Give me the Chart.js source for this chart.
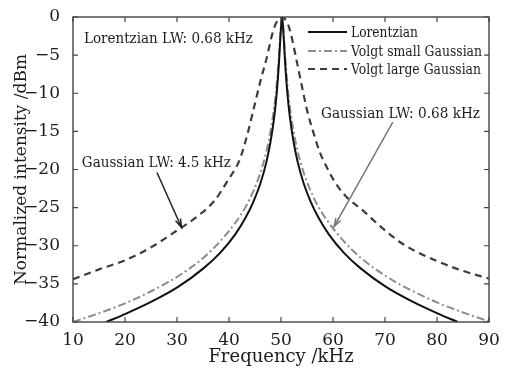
<!DOCTYPE html>
<html>
<head>
<meta charset="utf-8">
<script src="https://cdn.jsdelivr.net/npm/chart.js@4.4.1/dist/chart.umd.min.js"></script>
<style>
  html, body { margin: 0; padding: 0; background: #fff; }
  #wrap { width: 505px; height: 368px; }
</style>
</head>
<body>
<div id="wrap"><canvas id="chart" width="505" height="368"></canvas></div>
<script>
const xTicks = [10, 20, 30, 40, 50, 60, 70, 80, 90];
const yTicks = [0, -5, -10, -15, -20, -25, -30, -35, -40];

// Lorentzian (solid)
const lorFreq = [16.4, 20.2, 25.2, 30.2, 35.2, 38.2, 41.2, 43.2, 44.7, 46.0, 47.2, 48.0, 48.7, 49.2, 49.6, 49.9, 50.2,
  50.5, 50.8, 51.2, 51.7, 52.4, 53.2, 54.4, 55.7, 57.2, 59.2, 62.2, 65.2, 70.2, 75.2, 80.2, 84.0];
const lorDb = [-40.0, -38.9, -37.3, -35.4, -32.9, -31.0, -28.5, -26.3, -24.2, -21.9, -19.0, -16.3, -13.1, -9.8, -6.1, -2.5, 0,
  -2.5, -6.1, -9.8, -13.1, -16.3, -19.0, -21.9, -24.2, -26.3, -28.5, -31.0, -32.9, -35.4, -37.3, -38.9, -40.0];

// Voigt, small Gaussian (dash-dot)
const smallFreq = [10.0, 15.2, 20.2, 25.2, 30.2, 35.2, 38.2, 41.2, 43.2, 44.7, 46.0, 47.2, 48.0, 48.7, 49.2, 49.6, 49.9, 50.2,
  50.5, 50.8, 51.2, 51.7, 52.4, 53.2, 54.4, 55.7, 57.2, 59.2, 62.2, 65.2, 70.2, 75.2, 80.2, 85.2, 90.0];
const smallDb = [-40.0, -38.8, -37.5, -35.9, -34.0, -31.5, -29.5, -27.0, -24.9, -22.8, -20.5, -17.6, -14.9, -11.8, -8.6, -5.1, -1.9, 0,
  -1.9, -5.1, -8.6, -11.8, -14.9, -17.6, -20.5, -22.8, -24.9, -27.0, -29.5, -31.5, -34.0, -35.9, -37.5, -38.8, -39.9];

// Voigt, large Gaussian (dashed)
const largeFreq = [10, 15, 20, 25, 30, 34, 37.2, 39.8, 42.0, 43.5, 44.9, 46.2, 47.2, 48.5, 49.4, 50.2,
  51.0, 51.7, 53.0, 54.0, 55.0, 56.3, 57.5, 58.8, 60.5, 62.6, 65.8, 69.0, 73.5, 80.0, 85.0, 90.0];
const largeDb = [-34.4, -33.1, -31.9, -30.2, -28.0, -26.1, -24.1, -21.4, -18.8, -15.5, -11.6, -8.0, -5.5, -1.8, -0.4, 0,
  -0.5, -1.7, -5.7, -9.0, -12.2, -15.3, -17.8, -19.7, -21.8, -23.6, -25.4, -27.4, -29.8, -32.0, -33.3, -34.3];

const SERIF = "'DejaVu Serif', 'Liberation Serif', serif";
const INK = "#1c1c1c";

function toPoints(xs, ys) {
  return xs.map((x, i) => ({ x: x, y: ys[i] }));
}

// frame + inward ticks on all four sides
const framePlugin = {
  id: "frame",
  afterDatasetsDraw(chart) {
    const { ctx, chartArea: a, scales } = chart;
    ctx.save();
    ctx.strokeStyle = "#444";
    ctx.lineWidth = 1.4;
    ctx.strokeRect(a.left, a.top, a.right - a.left, a.bottom - a.top);
    ctx.lineWidth = 1.2;
    ctx.beginPath();
    xTicks.forEach((v) => {
      const px = scales.x.getPixelForValue(v);
      ctx.moveTo(px, a.bottom); ctx.lineTo(px, a.bottom - 5);
      ctx.moveTo(px, a.top); ctx.lineTo(px, a.top + 5);
    });
    yTicks.forEach((v) => {
      const py = scales.y.getPixelForValue(v);
      ctx.moveTo(a.left, py); ctx.lineTo(a.left + 5, py);
      ctx.moveTo(a.right, py); ctx.lineTo(a.right - 5, py);
    });
    ctx.stroke();
    ctx.restore();
  },
};

function arrow(ctx, x1, y1, x2, y2, color) {
  const a = Math.atan2(y2 - y1, x2 - x1);
  const h = 9;
  ctx.strokeStyle = color;
  ctx.lineWidth = 1.5;
  ctx.beginPath();
  ctx.moveTo(x1, y1);
  ctx.lineTo(x2, y2);
  ctx.moveTo(x2 - h * Math.cos(a - 0.3), y2 - h * Math.sin(a - 0.3));
  ctx.lineTo(x2, y2);
  ctx.lineTo(x2 - h * Math.cos(a + 0.3), y2 - h * Math.sin(a + 0.3));
  ctx.stroke();
}

// text notes, arrows and the legend inside the plot
const notesPlugin = {
  id: "notes",
  afterDraw(chart) {
    const { ctx, scales } = chart;
    const X = (v) => scales.x.getPixelForValue(v);
    const Y = (v) => scales.y.getPixelForValue(v);
    ctx.save();
    ctx.fillStyle = INK;
    ctx.textBaseline = "middle";
    ctx.textAlign = "left";
    ctx.font = "14px " + SERIF;
    ctx.fillText("Lorentzian LW: 0.68 kHz", X(12.1), Y(-2.9), 169);
    ctx.fillText("Gaussian LW: 4.5 kHz", X(11.7), Y(-19.2), 149);
    ctx.fillText("Gaussian LW: 0.68 kHz", X(57.7), Y(-12.8), 159);

    arrow(ctx, X(26.15), Y(-20.4), X(30.87), Y(-27.6), "#222");
    arrow(ctx, X(71.5), Y(-13.8), X(60.2), Y(-27.5), "#777");

    // legend
    const rows = [32, 51, 69];
    const widths = [67, 131, 130];
    chart.data.datasets.forEach((ds, i) => {
      ctx.strokeStyle = ds.borderColor;
      ctx.lineWidth = ds.borderWidth;
      ctx.setLineDash(ds.borderDash || []);
      ctx.beginPath();
      ctx.moveTo(308, rows[i]);
      ctx.lineTo(347, rows[i]);
      ctx.stroke();
      ctx.setLineDash([]);
      ctx.fillStyle = INK;
      ctx.fillText(ds.label, 351, rows[i] + 1, widths[i]);
    });
    ctx.restore();
  },
};

const ctx = document.getElementById("chart").getContext("2d");
new Chart(ctx, {
  type: "line",
  data: {
    datasets: [
      {
        label: "Lorentzian",
        data: toPoints(lorFreq, lorDb),
        borderColor: "#111",
        borderWidth: 2,
        pointRadius: 0,
        fill: false,
        cubicInterpolationMode: "monotone",
      },
      {
        label: "Volgt small Gaussian",
        data: toPoints(smallFreq, smallDb),
        borderColor: "#8c8c8c",
        borderWidth: 2,
        borderDash: [8, 3, 2, 3],
        pointRadius: 0,
        fill: false,
        cubicInterpolationMode: "monotone",
      },
      {
        label: "Volgt large Gaussian",
        data: toPoints(largeFreq, largeDb),
        borderColor: "#3c3c3c",
        borderWidth: 2.2,
        borderDash: [7, 5],
        pointRadius: 0,
        fill: false,
        cubicInterpolationMode: "monotone",
      },
    ],
  },
  options: {
    responsive: false,
    animation: false,
    devicePixelRatio: 1,
    layout: { padding: { top: 17, right: 16, left: 0, bottom: 0 } },
    plugins: { legend: { display: false }, tooltip: { enabled: false } },
    scales: {
      x: {
        type: "linear",
        min: 10,
        max: 90,
        afterBuildTicks: (s) => { s.ticks = xTicks.map((v) => ({ value: v })); },
        afterFit: (s) => { s.height = 46; },
        grid: { display: false },
        border: { display: false },
        ticks: { font: { family: SERIF, size: 17 }, color: INK, padding: 0, maxRotation: 0 },
        title: {
          display: true,
          text: "Frequency /kHz",
          font: { family: SERIF, size: 18 },
          color: INK,
          padding: { top: 0, bottom: 0 },
        },
      },
      y: {
        type: "linear",
        min: -40,
        max: 0,
        afterBuildTicks: (s) => { s.ticks = yTicks.map((v) => ({ value: v })); },
        afterFit: (s) => { s.width = 73; },
        grid: { display: false },
        border: { display: false },
        ticks: {
          font: { family: SERIF, size: 17 },
          color: INK,
          padding: 5,
          callback: (v) => String(v).replace("-", "\u2212"),
        },
        title: {
          display: true,
          text: "Normalized intensity /dBm",
          font: { family: SERIF, size: 17 },
          color: INK,
          padding: { top: 11, bottom: 0 },
        },
      },
    },
  },
  plugins: [framePlugin, notesPlugin],
});
</script>
</body>
</html>
